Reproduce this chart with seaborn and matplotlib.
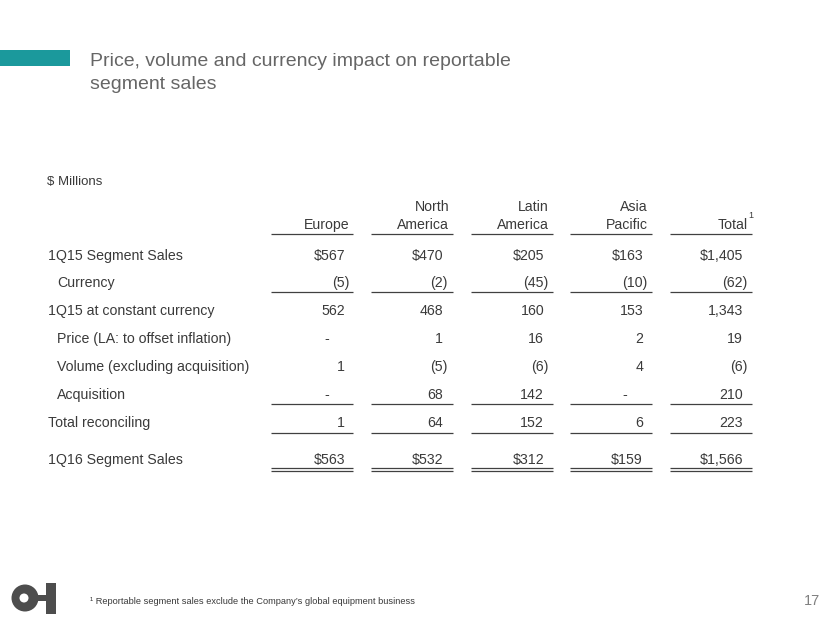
import matplotlib
matplotlib.use("Agg")
import matplotlib.pyplot as plt
import seaborn as sns
from matplotlib.patches import Rectangle, Circle

# data
title_lines = ["Price, volume and currency impact on reportable", "segment sales"]
unit_label = "$ Millions"
col_headers = [["Europe"], ["North", "America"], ["Latin", "America"], ["Asia", "Pacific"], ["Total"]]
row_labels = ["1Q15 Segment Sales", "Currency", "1Q15 at constant currency",
              "Price (LA: to offset inflation)", "Volume (excluding acquisition)",
              "Acquisition", "Total reconciling", "1Q16 Segment Sales"]
row_indent = [False, True, False, True, True, True, False, False]
europe = ["$567", "(5)", "562", "-", "1", "-", "1", "$563"]
north_america = ["$470", "(2)", "468", "1", "(5)", "68", "64", "$532"]
latin_america = ["$205", "(45)", "160", "16", "(6)", "142", "152", "$312"]
asia_pacific = ["$163", "(10)", "153", "2", "4", "-", "6", "$159"]
total = ["$1,405", "(62)", "1,343", "19", "(6)", "210", "223", "$1,566"]
footnote = "\u00b9 Reportable segment sales exclude the Company\u2019s global equipment business"
page_no = "17"

columns = [europe, north_america, latin_america, asia_pacific, total]

sns.set_theme(style="white")
plt.rcParams['font.family'] = ['Liberation Sans', 'DejaVu Sans']

fig = plt.figure(figsize=(8.3, 6.23), dpi=100)
ax = fig.add_axes([0, 0, 1, 1])
ax.set_xlim(0, 830)
ax.set_ylim(623, 0)
ax.axis('off')

txt = "#3a3a3a"
line_c = "#404040"
fs = 10.2

# title bar
ax.add_patch(Rectangle((0, 50), 70, 16, color="#1b999c", lw=0))
ax.text(90, 66, title_lines[0], fontsize=14, color="#666666", va='baseline')
ax.text(90, 89, title_lines[1], fontsize=14, color="#666666", va='baseline')

ax.text(47, 185, unit_label, fontsize=9.5, color=txt, va='baseline')

# column geometry
seg_start = [271, 371, 471, 570, 670]
seg_end = [353, 453, 553, 652, 752]
num_right = [345, 443, 544, 643, 743]
row_base = [260, 287, 315, 343, 371, 399, 427, 464]

# headers
for j, hdr in enumerate(col_headers):
    if len(hdr) == 2:
        ax.text(seg_end[j] - 4, 211, hdr[0], fontsize=fs, color=txt, ha='right', va='baseline')
    ax.text(seg_end[j] - 4, 229, hdr[-1], fontsize=fs, color=txt, ha='right', va='baseline')
ax.text(seg_end[4] - 4, 218, "1", fontsize=6.5, color=txt, ha='left', va='baseline')

def underline(y, double=False):
    for a, b in zip(seg_start, seg_end):
        ax.plot([a, b], [y, y], color=line_c, lw=0.9, solid_capstyle='butt')
        if double:
            ax.plot([a, b], [y + 3, y + 3], color=line_c, lw=0.9, solid_capstyle='butt')

underline(234)
underline(292)
underline(404)
underline(433)
underline(468, double=True)

# rows
for i, lab in enumerate(row_labels):
    x0 = 57 if row_indent[i] else 48
    ax.text(x0, row_base[i], lab, fontsize=fs, color=txt, va='baseline')
    for j, col in enumerate(columns):
        v = col[i]
        if v == "-":
            ax.text(num_right[j] - 18, row_base[i], v, fontsize=fs, color=txt, ha='center', va='baseline')
        elif v.endswith(")"):
            ax.text(num_right[j] + 4, row_base[i], v, fontsize=fs, color=txt, ha='right', va='baseline')
        else:
            ax.text(num_right[j], row_base[i], v, fontsize=fs, color=txt, ha='right', va='baseline')

# logo
logo_c = "#4d4d4d"
ax.add_patch(Circle((25, 598), 13.5, color=logo_c, lw=0))
ax.add_patch(Circle((24, 598), 4.5, color="white", lw=0))
ax.add_patch(Rectangle((37, 595), 9, 6, color=logo_c, lw=0))
ax.add_patch(Rectangle((46, 583), 10, 31, color=logo_c, lw=0))

ax.text(90, 604, footnote, fontsize=6.7, color=txt, va='baseline')
ax.text(820, 605, page_no, fontsize=10.5, color="#808080", ha='right', va='baseline')

fig.savefig("out.png", dpi=100)
